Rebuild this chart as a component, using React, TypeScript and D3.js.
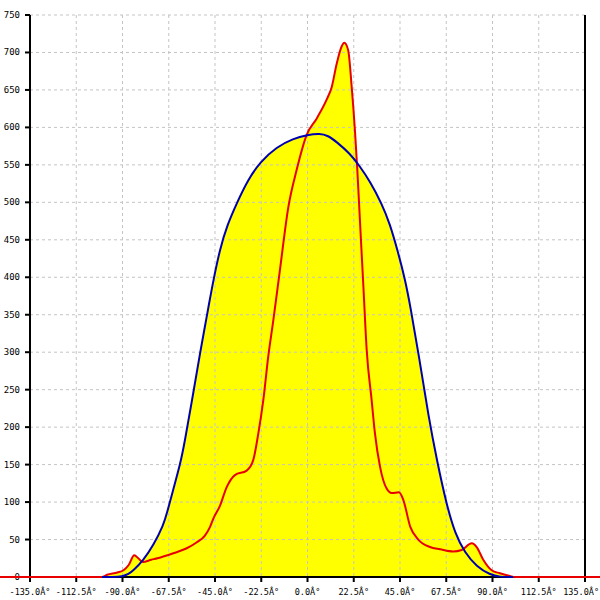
import React from "react";
import * as d3 from "d3";

const xTicks = [-135, -112.5, -90, -67.5, -45, -22.5, 0, 22.5, 45, 67.5, 90, 112.5, 135];
const yTicks = [0, 50, 100, 150, 200, 250, 300, 350, 400, 450, 500, 550, 600, 650, 700, 750];

const blueX = [-100, -95, -90, -87, -85, -80, -75, -70, -68.5, -65, -62, -60, -55.6, -52, -50, -48, -46, -42.6, -39, -34.4, -29, -23, -15, -7, 0, 6, 10, 14, 20.7, 25.5, 30.4, 36, 40, 44, 47.4, 50, 54.7, 58.8, 63, 67.7, 71.8, 76.6, 82.3, 88.8, 93.6, 100];
const blueY = [0, 0, 0.5, 4, 8, 22, 42, 70, 84, 120, 150, 176, 245, 303, 333, 363, 393, 438, 470, 499, 530, 554, 574, 585, 590, 592, 589, 581, 565, 548, 528, 499, 472, 434, 398, 362, 287, 215, 155, 96, 58, 32, 14, 3, 0, 0];

const redX = [-150, -100, -97.5, -92.5, -89.5, -87, -84.3, -82.3, -80.2, -76, -73, -65, -59, -54, -50, -47.4, -45.8, -42.6, -39.3, -35.3, -29.6, -26.4, -23.9, -21.5, -19.1, -16.6, -13.4, -9.3, -5.3, -0.4, 4.5, 9.3, 11.8, 14.2, 16.6, 17.9, 19.8, 21.5, 23.1, 24.2, 25.5, 27.2, 28.8, 31.2, 32.8, 35.3, 38.5, 41, 44.5, 46.6, 50, 53.9, 59.6, 64.5, 70.9, 75, 79.9, 82.3, 85.5, 89.6, 93.6, 98.5, 101, 150];
const redY = [0, 0, 3, 6, 9, 16, 29, 25, 20, 23, 25, 32, 38, 46, 55, 67, 78, 95, 120, 136, 142, 156, 192, 236, 294, 343, 410, 494, 543, 590, 612, 637, 654, 685, 708, 713, 703, 654, 595, 545, 476, 387, 303, 236, 192, 147, 118, 112, 113, 103, 67, 50, 40, 37, 34, 36, 45, 40, 23, 9, 5, 1.3, 0, 0];

const fmtX = (v: number) => v.toFixed(1) + "\u00C2\u00B0";

export default function App() {
  const W = 600, H = 600;
  const x = d3.scaleLinear().domain([-135, 135]).range([30, 585]);
  const y = d3.scaleLinear().domain([0, 750]).range([577, 15]);
  const blue = blueX.map((v, i) => [v, blueY[i]] as [number, number]);
  const red = redX.map((v, i) => [v, redY[i]] as [number, number]);
  const areaB = d3.area<[number, number]>().x(d => x(d[0])).y0(y(0)).y1(d => y(d[1])).curve(d3.curveBasis);
  const lineB = d3.line<[number, number]>().x(d => x(d[0])).y(d => y(d[1])).curve(d3.curveBasis);
  const areaR = d3.area<[number, number]>().x(d => x(d[0])).y0(y(0)).y1(d => y(d[1])).curve(d3.curveMonotoneX);
  const lineR = d3.line<[number, number]>().x(d => x(d[0])).y(d => y(d[1])).curve(d3.curveMonotoneX);
  const font = "'DejaVu Sans Mono', monospace";
  return (
    <svg width={W} height={H} style={{ position: "absolute", left: 0, top: 0, background: "#fff" }}>
      <rect x={0} y={0} width={W} height={H} fill="#fff" />
      <path d={areaB(blue) || ""} fill="#ffff00" />
      <path d={areaR(red) || ""} fill="#ffff00" />
      {yTicks.map(t => (
        <line key={"gy" + t} x1={x(-135)} x2={x(135)} y1={y(t)} y2={y(t)} stroke="#c4c4c4" strokeDasharray="3,3" strokeWidth={1} />
      ))}
      {xTicks.map(t => (
        <line key={"gx" + t} x1={x(t)} x2={x(t)} y1={y(750)} y2={y(0)} stroke="#c4c4c4" strokeDasharray="3,3" strokeWidth={1} />
      ))}
      <line x1={x(-135)} x2={x(-135)} y1={y(750)} y2={y(0)} stroke="#000" strokeWidth={2} />
      <line x1={x(135)} x2={x(135)} y1={y(750)} y2={y(0)} stroke="#000" strokeWidth={2} />
      <line x1={x(-135)} x2={x(135)} y1={y(0)} y2={y(0)} stroke="#000" strokeWidth={2} />
      {yTicks.map(t => (
        <g key={"yt" + t}>
          <line x1={x(-135) - 5} x2={x(-135)} y1={y(t)} y2={y(t)} stroke="#000" strokeWidth={2} />
          <text x={20} y={y(t) + 3} textAnchor="end" fontFamily={font} fontSize={9} fill="#000">{t}</text>
        </g>
      ))}
      {xTicks.map((t, i) => {
        const last = i === xTicks.length - 1;
        return (
          <g key={"xt" + t}>
            <line x1={x(t)} x2={x(t)} y1={y(0)} y2={y(0) + 5} stroke="#000" strokeWidth={2} />
            <text x={last ? 599 : x(t)} y={595} textAnchor={last ? "end" : "middle"} fontFamily={font} fontSize={8.5} fill="#000">{fmtX(t)}</text>
          </g>
        );
      })}
      <path d={lineR(red) || ""} fill="none" stroke="#e80000" strokeWidth={2} />
      <path d={lineB(blue) || ""} fill="none" stroke="#0000b0" strokeWidth={2} />
    </svg>
  );
}
